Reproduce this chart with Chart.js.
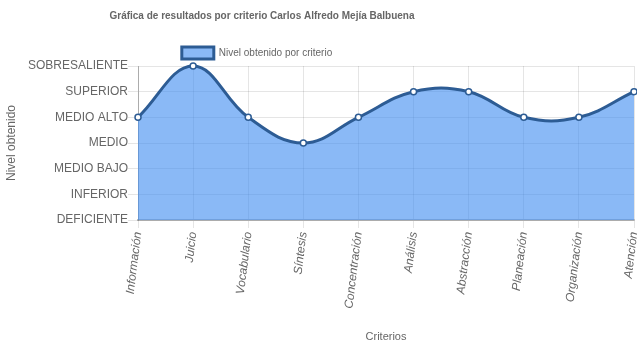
<!DOCTYPE html>
<html>
<head>
<meta charset="utf-8">
<script src="https://cdn.jsdelivr.net/npm/chart.js@4"></script>
<style>
  html, body { margin: 0; padding: 0; background: #fff; }
  #wrap { width: 637px; height: 348px; }
</style>
</head>
<body>
<div id="wrap"><canvas id="graficaCriterios" width="637" height="348"></canvas></div>
<script>
// Niveles de desempeño, de menor a mayor
const niveles = ['DEFICIENTE', 'INFERIOR', 'MEDIO BAJO', 'MEDIO', 'MEDIO ALTO', 'SUPERIOR', 'SOBRESALIENTE'];

// Criterios evaluados
const criterios = ['Información', 'Juicio', 'Vocabulario', 'Síntesis', 'Concentración',
  'Análisis', 'Abstracción', 'Planeación', 'Organización', 'Atención'];

// Nivel obtenido en cada criterio
const resultados = ['MEDIO ALTO', 'SOBRESALIENTE', 'MEDIO ALTO', 'MEDIO', 'MEDIO ALTO',
  'SUPERIOR', 'SUPERIOR', 'MEDIO ALTO', 'MEDIO ALTO', 'SUPERIOR'];

const fuente = 'Liberation Sans, Arial, sans-serif';

// Título y leyenda van centrados un poco a la izquierda del centro del lienzo,
// y la leyenda baja unos píxeles hacia la gráfica
const centrarEncabezado = {
  id: 'centrarEncabezado',
  afterLayout(chart) {
    if (chart.titleBlock) chart.titleBlock.right = 2 * 262 - chart.titleBlock.left;
    if (chart.legend) {
      chart.legend.right = 2 * 257 - chart.legend.left;
      chart.legend.top += 3;
    }
  }
};

const config = {
  type: 'line',
  data: {
    labels: criterios,
    datasets: [{
      label: 'Nivel obtenido por criterio',
      data: resultados.map(r => niveles.indexOf(r)),
      backgroundColor: 'rgba(60, 138, 240, 0.6)',
      borderColor: '#2d5c94',
      borderWidth: 3,
      fill: 'origin',
      tension: 0.4,
      clip: 6,
      pointRadius: 3,
      pointBorderWidth: 1.5,
      pointBackgroundColor: '#fff',
      pointBorderColor: '#2d5c94'
    }]
  },
  options: {
    responsive: false,
    animation: false,
    layout: { autoPadding: false, padding: { left: 0, right: 3, top: 0, bottom: 0 } },
    plugins: {
      title: {
        display: true,
        text: 'Gráfica de resultados por criterio Carlos Alfredo Mejía Balbuena',
        color: '#666',
        font: { family: fuente, size: 10, weight: 'bold' },
        padding: { top: 10, bottom: 14 }
      },
      legend: {
        labels: {
          boxWidth: 32,
          boxHeight: 12,
          padding: 8,
          color: '#666',
          font: { family: fuente, size: 10 }
        }
      },
      tooltip: { enabled: false }
    },
    scales: {
      y: {
        min: 0,
        max: 6,
        afterFit: s => { s.width = 138; },
        ticks: {
          stepSize: 1,
          padding: 0,
          color: '#666',
          font: { family: fuente, size: 12 },
          callback: v => niveles[v]
        },
        grid: { color: 'rgba(0,0,0,0.1)', tickLength: 10 },
        border: { color: 'rgba(0,0,0,0.25)' },
        title: {
          display: true,
          text: 'Nivel obtenido',
          color: '#666',
          font: { family: fuente, size: 12 }
        }
      },
      x: {
        afterFit: s => { s.height = 128; s.paddingRight = 0; },
        ticks: {
          minRotation: 83,
          maxRotation: 83,
          color: '#666',
          font: { family: fuente, size: 12, style: 'italic' }
        },
        grid: { color: 'rgba(0,0,0,0.1)', tickLength: 8 },
        border: { color: 'rgba(0,0,0,0.25)', width: 2 },
        title: {
          display: true,
          text: 'Criterios',
          color: '#666',
          font: { family: fuente, size: 11 }
        }
      }
    }
  },
  plugins: [centrarEncabezado]
};

new Chart(document.getElementById('graficaCriterios'), config);
</script>
</body>
</html>
